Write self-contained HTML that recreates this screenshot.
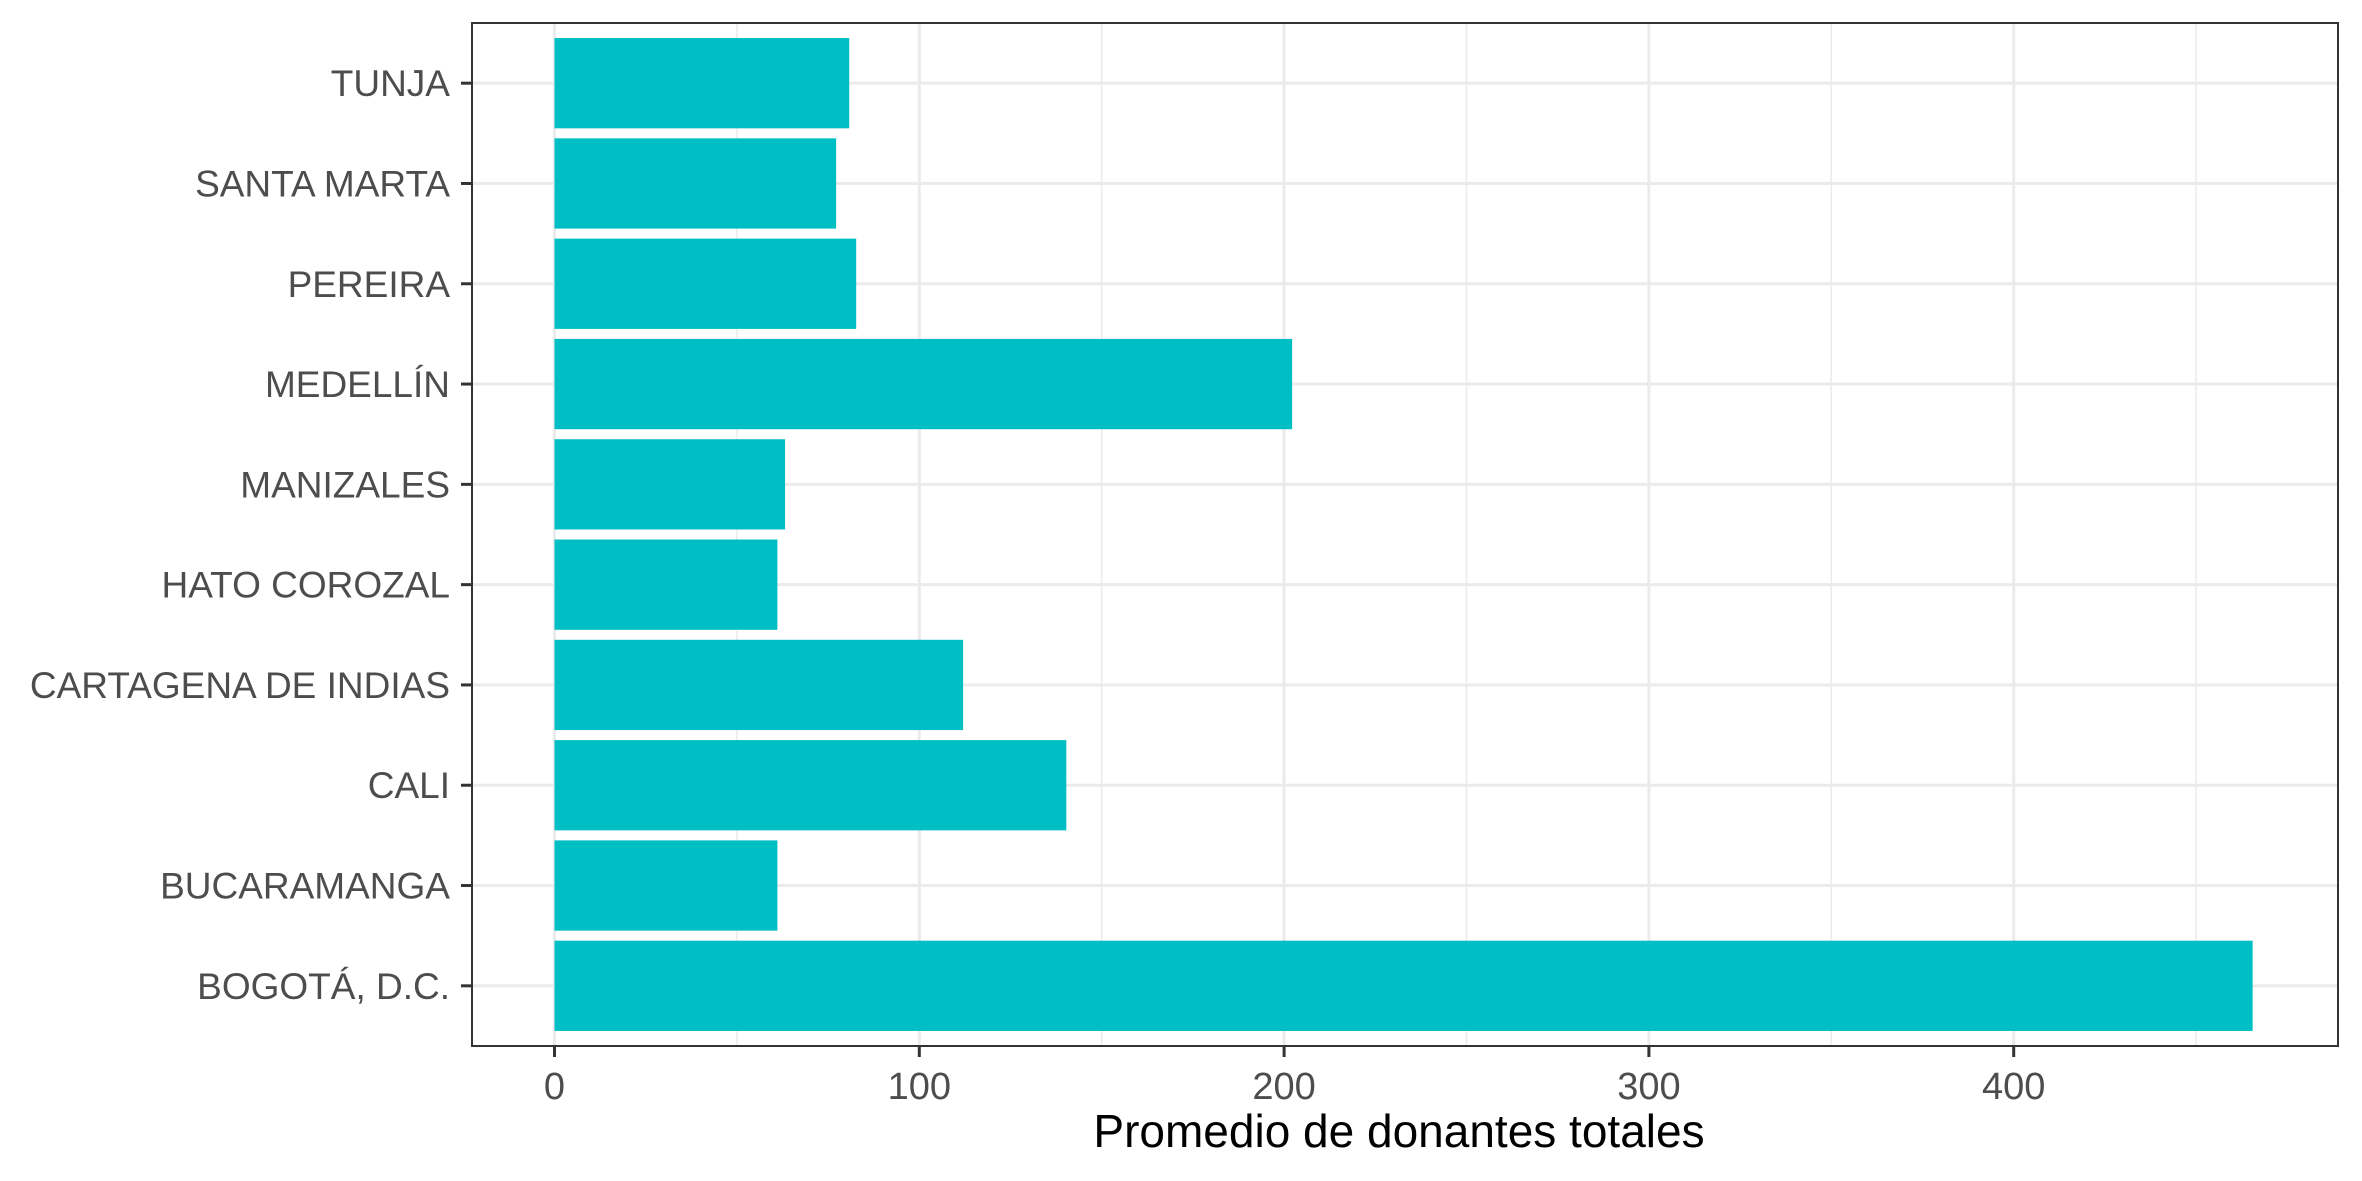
<!DOCTYPE html>
<html><head><meta charset="utf-8"><style>
html,body{margin:0;padding:0;background:#fff;}
svg{display:block;font-family:"Liberation Sans",Arial,sans-serif;}
</style></head><body>
<svg id="chart" width="2362" height="1181" viewBox="0 0 2362 1181"></svg>
<script>
const categories = ["BOGOTÁ, D.C.","BUCARAMANGA","CALI","CARTAGENA DE INDIAS","HATO COROZAL","MANIZALES","MEDELLÍN","PEREIRA","SANTA MARTA","TUNJA"];
const values = [465.5, 61.1, 140.3, 112.0, 61.1, 63.2, 202.2, 82.7, 77.2, 80.8];
const xTicks = [0, 100, 200, 300, 400];
const xMinor = [50, 150, 250, 350, 450];

const NS = "http://www.w3.org/2000/svg";
const svg = document.getElementById("chart");
const L = 472, R = 2338, T = 23, B = 1046;
const x0 = 554.5, pxPerUnit = 3.648;
function xs(v){ return x0 + v * pxPerUnit; }
const n = categories.length;
const unit = (B - T) / (n - 1 + 1.2);
function ys(i){ return B - (0.6 + i) * unit; }

function mk(tag, attrs){ const e = document.createElementNS(NS, tag); for (const k in attrs) e.setAttribute(k, attrs[k]); svg.appendChild(e); return e; }

const bg = mk("rect", {x:L, y:T, width:R-L, height:B-T, fill:"#fff"});



xMinor.forEach(v => {
  const g = mk("line", {x1:xs(v), x2:xs(v), y1:T, y2:B, stroke:"#EBEBEB", "stroke-width":1.5});
  
  
});
xTicks.forEach(v => {
  const g = mk("line", {x1:xs(v), x2:xs(v), y1:T, y2:B, stroke:"#EBEBEB", "stroke-width":3});
  
  
});
categories.forEach((c, i) => {
  const g = mk("line", {x1:L, x2:R, y1:ys(i), y2:ys(i), stroke:"#EBEBEB", "stroke-width":3});
  
  
});

categories.forEach((c, i) => {
  const h = unit * 0.9;
  const r = mk("rect", {x:xs(0), y:ys(i) - h/2, width:xs(values[i]) - xs(0), height:h, fill:"#00BFC4"});
  
  

  const tk = mk("line", {x1:L - 11, x2:L, y1:ys(i), y2:ys(i), stroke:"#333", "stroke-width":3});
  
  

  const t = mk("text", {x:L - 22, y:ys(i) + 13, "text-anchor":"end", "font-size":37, fill:"#4D4D4D"});
  t.textContent = c;
  
  
});

xTicks.forEach(v => {
  const tk = mk("line", {x1:xs(v), x2:xs(v), y1:B, y2:B + 11, stroke:"#333", "stroke-width":3});
  
  
  const t = mk("text", {x:xs(v), y:B + 53, "text-anchor":"middle", "font-size":38, fill:"#4D4D4D"});
  t.textContent = v;
  
  
});

const border = mk("rect", {x:L, y:T, width:R-L, height:B-T, fill:"none", stroke:"#333", "stroke-width":2});



const title = mk("text", {x:(L+R)/2 - 6, y:1147, "text-anchor":"middle", "font-size":46, fill:"#000"});
title.textContent = "Promedio de donantes totales";


</script>
</body></html>
